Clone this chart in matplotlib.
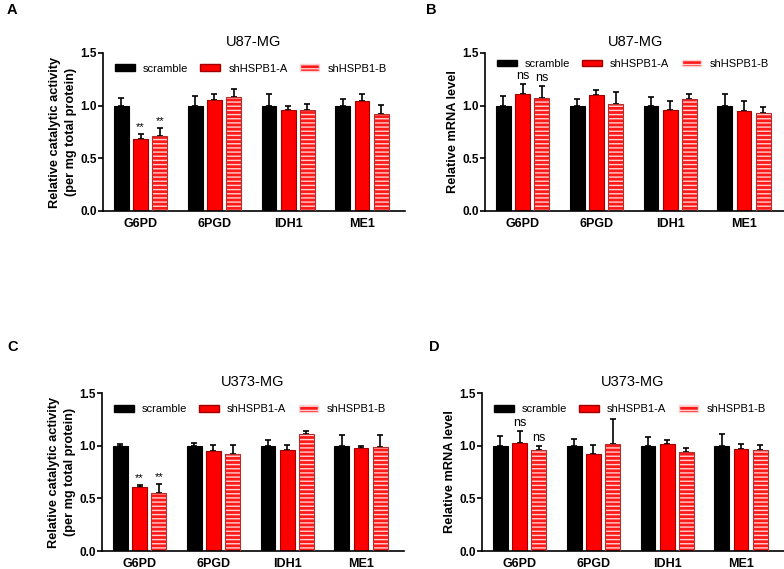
import numpy as np
import matplotlib
matplotlib.use('Agg')
import matplotlib.pyplot as plt
from matplotlib.patches import Patch

plt.rcParams['font.family'] = ['Liberation Sans', 'DejaVu Sans']
plt.rcParams['hatch.linewidth'] = 1.0

genes = ['G6PD', '6PGD', 'IDH1', 'ME1']
groups = ['scramble', 'shHSPB1-A', 'shHSPB1-B']

# panel A: U87-MG catalytic activity
a_mean = [[1.00, 1.00, 1.00, 1.00],
          [0.68, 1.05, 0.96, 1.04],
          [0.71, 1.08, 0.96, 0.92]]
a_err = [[0.07, 0.09, 0.11, 0.06],
         [0.05, 0.06, 0.04, 0.07],
         [0.08, 0.08, 0.06, 0.09]]
# panel B: U87-MG mRNA
b_mean = [[1.00, 1.00, 1.00, 1.00],
          [1.11, 1.10, 0.96, 0.95],
          [1.07, 1.02, 1.06, 0.93]]
b_err = [[0.09, 0.06, 0.08, 0.11],
         [0.10, 0.05, 0.08, 0.09],
         [0.12, 0.11, 0.05, 0.06]]
# panel C: U373-MG catalytic activity
c_mean = [[1.00, 1.00, 1.00, 1.00],
          [0.61, 0.95, 0.96, 0.98],
          [0.55, 0.92, 1.11, 0.99]]
c_err = [[0.02, 0.03, 0.05, 0.10],
         [0.02, 0.06, 0.05, 0.02],
         [0.09, 0.09, 0.03, 0.11]]
# panel D: U373-MG mRNA
d_mean = [[1.00, 1.00, 1.00, 1.00],
          [1.03, 0.92, 1.02, 0.97],
          [0.96, 1.02, 0.94, 0.96]]
d_err = [[0.09, 0.06, 0.08, 0.11],
         [0.11, 0.09, 0.03, 0.05],
         [0.04, 0.23, 0.04, 0.05]]

act_label = 'Relative catalytic activity\n(per mg total protein)'
mrna_label = 'Relative mRNA level'

panels = [
    ('A', 'U87-MG', act_label, a_mean, a_err, '**'),
    ('B', 'U87-MG', mrna_label, b_mean, b_err, 'ns'),
    ('C', 'U373-MG', act_label, c_mean, c_err, '**'),
    ('D', 'U373-MG', mrna_label, d_mean, d_err, 'ns'),
]

# axes rectangles (left, bottom, width, height) in figure fraction
rects = [(0.1314, 0.6292, 0.385, 0.2777),
         (0.6186, 0.6292, 0.385, 0.2777),
         (0.1301, 0.0316, 0.385, 0.2777),
         (0.6148, 0.0316, 0.385, 0.2777)]
letter_pos = [(0.008, 0.995), (0.543, 0.995), (0.010, 0.402), (0.547, 0.402)]
legend_y = [0.982, 1.013, 0.977, 0.977]

fig = plt.figure(figsize=(7.84, 5.69), dpi=100)

width = 0.2
offs = [-0.26, 0.0, 0.26]
x = np.arange(len(genes))

for (letter, title, ylab, mean, err, sig), rect, lp, ly in zip(panels, rects, letter_pos, legend_y):
    ax = fig.add_axes(rect)
    for i in range(3):
        xi = x + offs[i]
        if i == 0:
            ax.bar(xi, mean[i], width, color='black', edgecolor='black',
                   linewidth=0.8, zorder=2)
        elif i == 1:
            ax.bar(xi, mean[i], width, color='#ff0000', edgecolor='#a00000',
                   linewidth=0.8, zorder=2)
        else:
            ax.bar(xi, mean[i], width, color='#ff1a1a', edgecolor='#ffd0d0',
                   hatch='----', linewidth=0, zorder=2)
            ax.bar(xi, mean[i], width, color='none', edgecolor='#b03030',
                   linewidth=0.8, zorder=3)
        ax.errorbar(xi, mean[i], yerr=[np.zeros(4), err[i]], fmt='none',
                    ecolor='black', elinewidth=1.2, capsize=2.5, capthick=1.2,
                    zorder=1)

    proxies = [Patch(facecolor='black', edgecolor='black'),
               Patch(facecolor='#ff0000', edgecolor='#a00000'),
               Patch(facecolor='#ff1a1a', edgecolor='#ffd0d0', hatch='----')]
    ax.legend(proxies, groups, ncol=3, loc='upper center',
              bbox_to_anchor=(0.49, ly), frameon=False, fontsize=8,
              handlelength=1.75, handleheight=0.5, columnspacing=1.1,
              handletextpad=0.75, borderpad=0.2)

    # significance marks on G6PD
    for i in (1, 2):
        top = mean[i][0] + err[i][0]
        ax.text(offs[i], top + 0.015, sig, ha='center', va='bottom',
                fontsize=9 if sig == 'ns' else 8)

    ax.set_xlim(-0.51, 3.58)
    ax.set_ylim(0, 1.5)
    ax.set_yticks([0, 0.5, 1.0, 1.5])
    ax.set_yticklabels(['0.0', '0.5', '1.0', '1.5'])
    ax.set_xticks(x)
    ax.set_xticklabels(genes)
    ax.tick_params(axis='x', length=0, pad=5, labelsize=9)
    ax.tick_params(axis='y', length=3.5, width=1.2, pad=1, labelsize=8.5)
    for lab in ax.get_xticklabels() + ax.get_yticklabels():
        lab.set_fontweight('bold')
    ax.spines['top'].set_visible(False)
    ax.spines['right'].set_visible(False)
    ax.spines['left'].set_linewidth(1.2)
    ax.spines['bottom'].set_linewidth(1.2)
    ax.set_ylabel(ylab, fontsize=9.2, fontweight='bold', labelpad=2,
                  linespacing=1.45)
    ax.set_title(title, fontsize=10.5, pad=5)
    fig.text(lp[0], lp[1], letter, fontsize=10.5, fontweight='bold',
             ha='left', va='top')

fig.savefig('out.png', dpi=100)
